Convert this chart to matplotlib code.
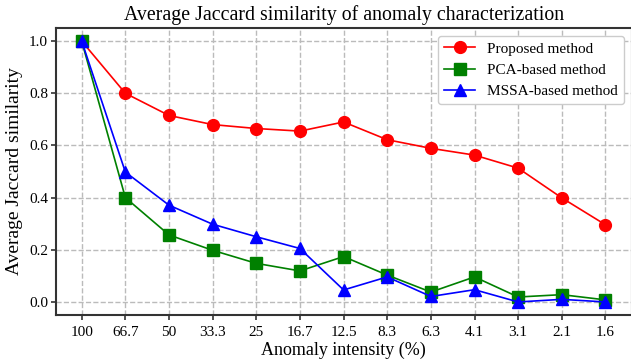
import numpy as np
import matplotlib.pyplot as plt

plt.rcParams['font.family'] = ['Liberation Serif', 'DejaVu Serif']

intensity = ['100', '66.7', '50', '33.3', '25', '16.7', '12.5', '8.3', '6.3', '4.1', '3.1', '2.1', '1.6']
proposed = [1.0, 0.80, 0.715, 0.68, 0.665, 0.655, 0.69, 0.622, 0.589, 0.563, 0.513, 0.399, 0.296]
pca = [1.0, 0.40, 0.257, 0.198, 0.148, 0.119, 0.174, 0.103, 0.038, 0.096, 0.019, 0.028, 0.008]
mssa = [1.0, 0.498, 0.371, 0.298, 0.25, 0.205, 0.046, 0.096, 0.021, 0.047, 0.0, 0.01, 0.0]

x = np.arange(len(intensity))

fig = plt.figure(figsize=(6.31, 3.6), dpi=100)
ax = fig.add_axes([0.088, 0.125, 0.913, 0.797])

ax.plot(x, proposed, color='red', marker='o', markersize=8.5, linewidth=1.2, label='Proposed method')
ax.plot(x, pca, color='green', marker='s', markersize=8, linewidth=1.2, label='PCA-based method')
ax.plot(x, mssa, color='blue', marker='^', markersize=8.5, linewidth=1.2, label='MSSA-based method')

ax.set_xticks(x)
ax.set_xticklabels(intensity)
ax.set_yticks([0.0, 0.2, 0.4, 0.6, 0.8, 1.0])
ax.set_yticklabels(['0.0', '0.2', '0.4', '0.6', '0.8', '1.0'])
ax.tick_params(labelsize=11, direction='out', length=3.5, width=1.2, color='#333333')
ax.tick_params(axis='x', pad=4.5)
ax.tick_params(axis='y', pad=2)
ax.grid(True, linestyle='--', color='#bbbbbb', linewidth=1)
ax.set_axisbelow(True)
for s in ax.spines.values():
    s.set_color('#333333')
    s.set_linewidth(1.5)

ax.set_xlabel('Anomaly intensity (%)', fontsize=13, labelpad=2)
ax.set_ylabel('Average Jaccard similarity', fontsize=14, labelpad=4)
ax.set_title('Average Jaccard similarity of anomaly characterization', fontsize=14.3, pad=6)
ax.legend(loc='upper right', fontsize=11, fancybox=True, framealpha=1, edgecolor='#cccccc')

fig.savefig('out.png', dpi=100)
